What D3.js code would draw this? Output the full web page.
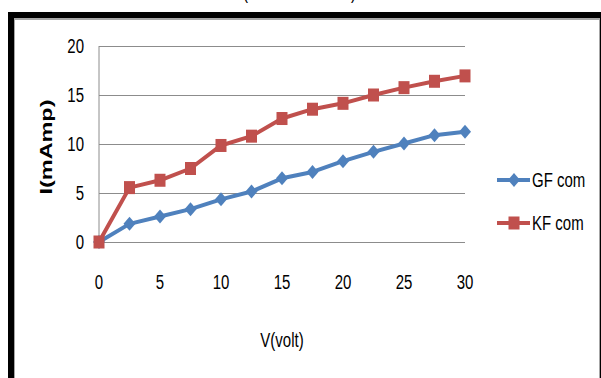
<!DOCTYPE html>
<html>
<head>
<meta charset="utf-8">
<script src="https://cdn.jsdelivr.net/npm/d3@7"></script>
<style>
  html, body { margin: 0; padding: 0; background: #fff; }
  svg { display: block; }
  text { font-family: "Liberation Sans", Arial, sans-serif; fill: #000; }
</style>
</head>
<body>
<svg id="chart" width="601" height="378"></svg>
<script>
// ---- data ----
const voltage = [0, 2.5, 5, 7.5, 10, 12.5, 15, 17.5, 20, 22.5, 25, 27.5, 30];
const gfCom = [0, 1.85, 2.6, 3.35, 4.35, 5.15, 6.5, 7.15, 8.25, 9.2, 10.05, 10.9, 11.25];
const kfCom = [0, 5.55, 6.3, 7.5, 9.85, 10.8, 12.6, 13.55, 14.15, 15.0, 15.75, 16.4, 16.95];
const xTicks = [0, 5, 10, 15, 20, 25, 30];
const yTicks = [0, 5, 10, 15, 20];
const seriesNames = ["GF com", "KF com"];
const seriesColors = ["#4F81BD", "#C0504D"];

const svg = d3.select("#chart");
const SY = 1.3; // vertical stretch of text seen in the reference

// frame
svg.append("rect").attr("x", 8).attr("y", 12).attr("width", 600).attr("height", 400).attr("fill", "#000");
svg.append("rect").attr("x", 14).attr("y", 18).attr("width", 586).attr("height", 400).attr("fill", "#a6a6a6");
svg.append("rect").attr("x", 15).attr("y", 20).attr("width", 584).attr("height", 400).attr("fill", "#fff");

// cut-off title parentheses
svg.append("text").attr("transform", `translate(243,-1) scale(1,${SY})`).attr("font-size", 15).text("(");
svg.append("text").attr("transform", `translate(351,-1) scale(1,${SY})`).attr("font-size", 15).text(")");

const x = d3.scaleLinear().domain([0, 30]).range([99, 465]);
const y = d3.scaleLinear().domain([0, 20]).range([242, 46]);

// gridlines
const grid = svg.append("g")
  .attr("transform", `translate(${x(0)},0)`)
  .call(d3.axisLeft(y).tickValues(yTicks).tickSize(-(x(30) - x(0))).tickFormat(""));
grid.select(".domain").remove();
grid.selectAll(".tick line").attr("stroke", "#8c8c8c").attr("stroke-width", 1);

// vertical axis line
svg.append("line").attr("x1", x(0)).attr("x2", x(0)).attr("y1", y(20)).attr("y2", y(0))
  .attr("stroke", "#8c8c8c").attr("stroke-width", 1);

// y tick labels
svg.selectAll(".ylab").data(yTicks).enter().append("text")
  .attr("class", "ylab")
  .attr("transform", d => `translate(84,${y(d)}) scale(1,${SY})`)
  .attr("text-anchor", "end").attr("dominant-baseline", "central")
  .attr("font-size", 15).text(d => d);

// x tick labels
svg.selectAll(".xlab").data(xTicks).enter().append("text")
  .attr("class", "xlab")
  .attr("transform", d => `translate(${x(d)},282) scale(1,${SY})`)
  .attr("text-anchor", "middle").attr("dominant-baseline", "central")
  .attr("font-size", 15).text(d => d);

// axis titles
svg.append("text")
  .attr("transform", `translate(282,340) scale(1,${SY})`)
  .attr("text-anchor", "middle").attr("dominant-baseline", "central")
  .attr("font-size", 15).text("V(volt)");

svg.append("text")
  .attr("transform", "translate(46,147) rotate(-90)")
  .attr("text-anchor", "middle").attr("dominant-baseline", "central")
  .attr("font-size", 17).attr("font-weight", "bold")
  .attr("textLength", 95).attr("lengthAdjust", "spacingAndGlyphs")
  .text("I(mAmp)");

// series
const allSeries = [gfCom, kfCom];
const line = d3.line().x((d, i) => x(voltage[i])).y(d => y(d));
const diamond = (cx, cy) => `M${cx},${cy - 7}L${cx + 6},${cy}L${cx},${cy + 7}L${cx - 6},${cy}Z`;

allSeries.forEach((vals, si) => {
  const g = svg.append("g");
  g.append("path").datum(vals).attr("d", line)
    .attr("fill", "none").attr("stroke", seriesColors[si]).attr("stroke-width", 4)
    .attr("stroke-linejoin", "round");
  if (si === 0) {
    g.selectAll("path.m").data(vals).enter().append("path").attr("class", "m")
      .attr("d", (d, i) => diamond(x(voltage[i]), y(d))).attr("fill", seriesColors[si]);
  } else {
    g.selectAll("rect.m").data(vals).enter().append("rect").attr("class", "m")
      .attr("x", (d, i) => x(voltage[i]) - 5.5).attr("y", d => y(d) - 6.5)
      .attr("width", 11).attr("height", 13).attr("fill", seriesColors[si]);
  }
});

// legend
const legY = [180, 223];
seriesNames.forEach((name, si) => {
  const ly = legY[si];
  svg.append("line").attr("x1", 497).attr("x2", 530).attr("y1", ly).attr("y2", ly)
    .attr("stroke", seriesColors[si]).attr("stroke-width", 4);
  if (si === 0) {
    svg.append("path").attr("d", diamond(514, ly)).attr("fill", seriesColors[si]);
  } else {
    svg.append("rect").attr("x", 508.5).attr("y", ly - 6.5).attr("width", 11).attr("height", 13)
      .attr("fill", seriesColors[si]);
  }
  svg.append("text")
    .attr("transform", `translate(532,${ly}) scale(1,${SY})`)
    .attr("dominant-baseline", "central").attr("font-size", 15).text(name);
});
</script>
</body>
</html>
